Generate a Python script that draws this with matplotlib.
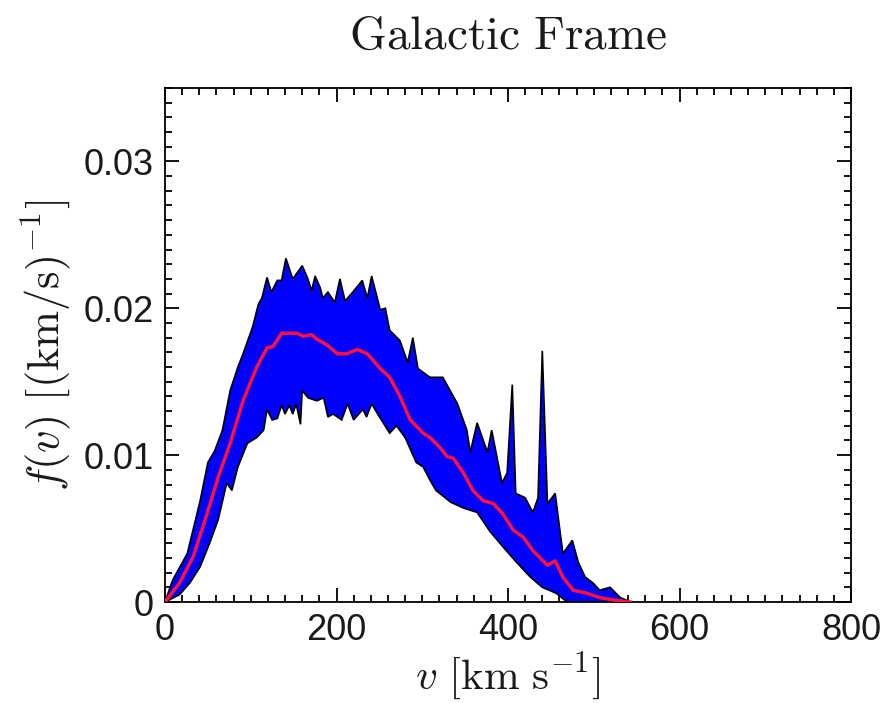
import numpy as np
import matplotlib
matplotlib.use('Agg')
import matplotlib.pyplot as plt
from matplotlib.ticker import MultipleLocator

plt.rcParams['mathtext.fontset'] = 'cm'
plt.rcParams['font.family'] = ['Liberation Sans', 'DejaVu Sans']

# Upper edge of the band (km/s, 1/(km/s))
v_upper = [0, 9, 26, 41, 50, 58, 67, 76, 85, 91, 102, 109, 113, 119, 124, 131, 136,
           141, 149, 160, 166, 171, 175, 181, 184, 190, 198, 204, 210, 219, 230,
           236, 241, 251, 257, 262, 274, 283, 289, 295, 309, 324, 341, 352, 356,
           364, 376, 381, 393, 399, 405, 409, 420, 429, 435, 440, 446, 455, 464,
           475, 482, 490, 499, 507, 519, 531, 539, 542]
f_upper = [0, .0015, .0033, .0069, .0095, .0103, .0117, .0144, .0160, .0169, .0187,
           .0203, .0207, .0221, .0211, .0219, .0219, .0234, .0220, .0229, .0221, .0212,
           .0222, .0214, .0207, .0211, .0204, .0220, .0205, .0211, .0219, .0207, .0222,
           .0199, .0200, .0185, .0178, .0163, .0180, .0159, .0153, .0153, .0135, .0117,
           .0102, .0122, .0102, .0117, .0081, .0088, .0148, .0074, .0071, .0061, .0071,
           .0171, .0067, .0074, .0033, .0042, .0027, .0017, .0013, .0008, .0010, .0003,
           .0001, 0]

# Lower edge of the band
v_lower = [0, 17, 29, 41, 52, 62, 72, 78, 85, 96, 107, 115, 119, 125, 131, 136,
           140, 145, 149, 153, 158, 160, 167, 177, 185, 190, 196, 206, 213, 220,
           229, 231, 235, 241, 248, 262, 270, 280, 293, 301, 309, 316, 333, 348,
           364, 379, 395, 410, 426, 440, 456, 469]
f_lower = [0, .0005, .0013, .0024, .0040, .0056, .0081, .0076, .0092, .0108, .0112,
           .0117, .0131, .0124, .0125, .0134, .0128, .0134, .0128, .0135, .0121, .0144,
           .0139, .0137, .0139, .0126, .0128, .0124, .0135, .0124, .0130, .0131, .0126,
           .0135, .0128, .0115, .0120, .0112, .0095, .0092, .0083, .0076, .0068, .0064,
           .0061, .0048, .0037, .0027, .0017, .0010, .0006, 0]

# Mean curve (red)
v_mean = [0, 17, 33, 49, 62, 76, 91, 107, 119, 126, 136, 154, 161, 171, 177, 189, 201,
          212, 224, 236, 251, 262, 274, 286, 301, 309, 321, 329, 336, 348, 359, 371,
          383, 394, 406, 418, 429, 446, 455, 464, 476, 492, 507, 527, 542]
f_mean = [0, .0013, .0031, .0060, .0085, .0108, .0137, .0160, .0173, .0174, .0183, .0183,
          .0181, .0182, .0179, .0175, .0169, .0169, .0172, .0169, .0159, .0153, .0140,
          .0124, .0115, .0112, .0105, .0099, .0098, .0088, .0076, .0069, .0067, .0060,
          .0049, .0044, .0035, .0025, .0028, .0017, .0008, .0006, .0003, .0001, 0]

fig = plt.figure(figsize=(8.87, 7.03), dpi=100)
ax = fig.add_axes([165 / 887, 1 - 602 / 703, 686 / 887, 514 / 703])

# band as one polygon: upper edge then lower edge backwards
band_v = np.concatenate([v_upper, v_lower[::-1]])
band_f = np.concatenate([f_upper, f_lower[::-1]])
ax.fill(band_v, band_f, facecolor='#0000ff', edgecolor='black', linewidth=1.2, zorder=2)
ax.plot(v_mean, f_mean, color='#ff1040', linewidth=2.5, zorder=3)

ax.set_xlim(0, 800)
ax.set_ylim(0, 0.035)
ax.xaxis.set_major_locator(MultipleLocator(200))
ax.xaxis.set_minor_locator(MultipleLocator(20))
ax.yaxis.set_minor_locator(MultipleLocator(0.001))
ax.set_yticks([0, 0.01, 0.02, 0.03])
ax.set_yticklabels(['0', '0.01', '0.02', '0.03'])

ax.tick_params(which='both', direction='in', top=True, right=True, width=1.3,
               labelsize=26, labelcolor='#1a1a1a', pad=8)
ax.tick_params(which='major', length=10)
ax.tick_params(which='minor', length=5)
for s in ax.spines.values():
    s.set_linewidth(1.3)

ax.set_xlabel(r'$v\ [\mathrm{km\ s}^{-1}]$', fontsize=31, labelpad=2, color='#1a1a1a')
ax.set_ylabel(r'$f(v)\ [(\mathrm{km/s})^{-1}]$', fontsize=32, labelpad=8, color='#1a1a1a')
ax.set_title(r'$\mathrm{Galactic\ Frame}$', fontsize=34, pad=28, color='#1a1a1a')

fig.savefig('out.png', dpi=100)
